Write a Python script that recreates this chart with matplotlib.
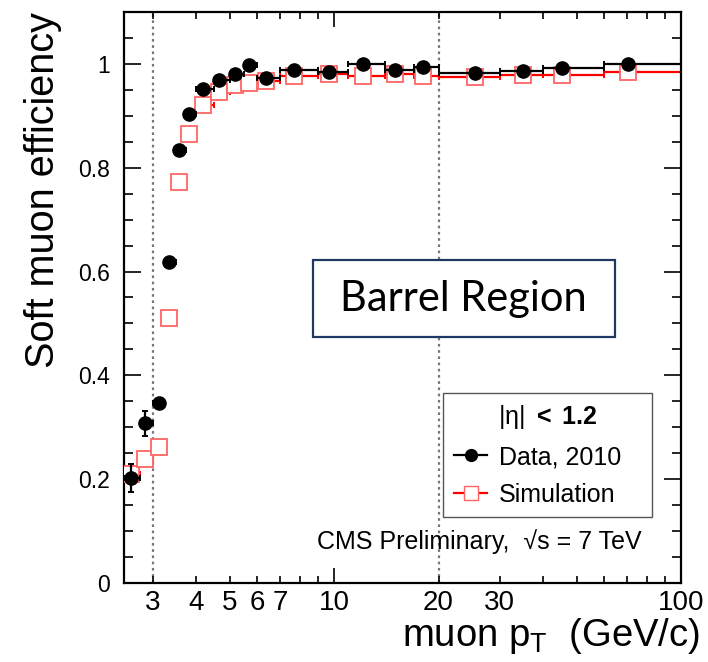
import matplotlib
matplotlib.use("Agg")
import matplotlib.pyplot as plt
from matplotlib.lines import Line2D
from matplotlib.patches import Rectangle
import numpy as np

plt.rcParams['font.family'] = ['Liberation Sans', 'DejaVu Sans']
plt.rcParams['mathtext.fontset'] = 'custom'
plt.rcParams['mathtext.rm'] = 'Liberation Sans'
plt.rcParams['mathtext.it'] = 'Liberation Sans:italic'
plt.rcParams['mathtext.bf'] = 'Liberation Sans:bold'

# ---- data ----
pt = [2.60, 2.85, 3.13, 3.34, 3.57, 3.82, 4.19, 4.66, 5.19, 5.69, 6.37, 7.67,
      9.67, 12.1, 15.0, 18.0, 25.5, 35.1, 45.4, 70.3]
bin_lo = [2.5, 2.75, 3.0, 3.25, 3.5, 3.75, 4.0, 4.5, 5.0, 5.5, 6.0, 7.0,
          9.0, 11.0, 14.0, 17.0, 20.0, 30.0, 40.0, 60.0]
bin_hi = [2.75, 3.0, 3.25, 3.5, 3.75, 4.0, 4.5, 5.0, 5.5, 6.0, 7.0, 9.0,
          11.0, 14.0, 17.0, 20.0, 30.0, 40.0, 60.0, 100.0]
eff_data = [0.202, 0.308, 0.346, 0.619, 0.835, 0.904, 0.952, 0.969, 0.981, 0.998,
            0.973, 0.988, 0.985, 1.000, 0.988, 0.994, 0.982, 0.986, 0.992, 1.000]
err_data = [0.027, 0.024, 0.006, 0.006, 0.005, 0.005, 0.005, 0.004, 0.004, 0.004,
            0.004, 0.003, 0.003, 0.003, 0.003, 0.003, 0.003, 0.003, 0.003, 0.003]
eff_sim = [0.210, 0.238, 0.262, 0.510, 0.773, 0.865, 0.921, 0.946, 0.960, 0.964,
           0.967, 0.977, 0.981, 0.977, 0.981, 0.977, 0.975, 0.979, 0.979, 0.985]

major_xticks = [10, 100]
minor_xticks = [3, 4, 5, 6, 7, 8, 9, 20, 30, 40, 50, 60, 70, 80, 90]
minor_xlabels = ['3', '4', '5', '6', '7', '', '', '20', '30', '', '', '', '', '', '']
yticks = [0, 0.2, 0.4, 0.6, 0.8, 1.0]
ytick_labels = ['0', '0.2', '0.4', '0.6', '0.8', '1']
vlines_at = [3, 20]

pt_a = np.array(pt)
xerr = [pt_a - np.array(bin_lo), np.array(bin_hi) - pt_a]

fig = plt.figure(figsize=(7.08, 6.62), dpi=100)
ax = fig.add_axes([124/708, 1-583/662, 557/708, 571/662])

for v in vlines_at:
    ax.axvline(v, color='#777777', ls=(0, (1.2, 1.6)), lw=1.6, zorder=1)

ax.errorbar(pt, eff_sim, xerr=xerr, fmt='none', ecolor='#ff0000', elinewidth=1.6,
            capsize=2.2, capthick=1.4, zorder=2)
ax.plot(pt, eff_sim, ls='none', marker='s', ms=11.3, mfc='white', mec='#ff6464', mew=1.3, zorder=3)

ax.errorbar(pt, eff_data, xerr=xerr, yerr=err_data, fmt='o', color='black', ms=9.5,
            elinewidth=1.6, capsize=2.5, capthick=1.4, zorder=4)

ax.set_xscale('log')
ax.set_xlim(2.48, 100)
ax.set_ylim(0, 1.1)

ax.set_xticks(major_xticks)
ax.set_xticklabels(['10', '100'])
ax.set_xticks(minor_xticks, minor=True)
ax.set_xticklabels(minor_xlabels, minor=True)
ax.set_yticks(yticks)
ax.set_yticklabels(ytick_labels)
ax.set_yticks(np.arange(0, 1.1001, 0.05), minor=True)

ax.tick_params(axis='x', which='both', direction='in', top=True, labelsize=20, pad=5)
ax.tick_params(axis='x', which='major', length=11, width=1.2)
ax.tick_params(axis='x', which='minor', length=5, width=1.2)
ax.tick_params(axis='y', which='both', direction='in', right=True, labelsize=16.5, pad=10)
ax.tick_params(axis='y', which='major', length=12, width=1.2)
ax.tick_params(axis='y', which='minor', length=6.5, width=1.2)
for s in ax.spines.values():
    s.set_linewidth(1.6)

ax.set_ylabel('Soft muon efficiency', fontsize=28.5, loc='top')
ax.yaxis.set_label_coords(-0.112, 1.0)
ax.set_xlabel(r'muon p$_{\mathrm{T}}$  (GeV/c)', fontsize=27.5, loc='right')
ax.xaxis.set_label_coords(1.034, -0.057)

h_data = Line2D([], [], color='black', marker='o', ms=8.5, lw=1.6)
h_sim = Line2D([], [], color='#ff0000', marker='s', ms=9.5, mfc='white', mec='#ff6464', lw=1.6)
leg = ax.legend([h_data, h_sim], ['Data, 2010', 'Simulation'],
                title=r'|η| $\mathbf{<}$ $\mathbf{1.2}$', title_fontsize=18, fontsize=18,
                loc='upper left', bbox_to_anchor=(0.573, 0.114, 0.375, 0.219), mode='expand',
                frameon=True, fancybox=False, edgecolor='#555555', framealpha=1,
                handlelength=1.35, handletextpad=0.45, labelspacing=0.55,
                borderpad=0.42, borderaxespad=0)
leg.get_frame().set_linewidth(1.0)

ax.text(0.930, 0.072, 'CMS Preliminary,  √s = 7 TeV', transform=ax.transAxes,
        ha='right', va='center', fontsize=18)

bw, bh = 302/557, 77/571
bx, by = 0.610 - bw/2, 0.498 - bh/2
ax.add_patch(Rectangle((bx, by), bw, bh, transform=ax.transAxes, facecolor='white',
                       edgecolor='#1f3864', lw=1.6, zorder=6))
ax.text(0.610, 0.498, 'Barrel Region', transform=ax.transAxes, ha='center', va='center',
        fontsize=30, family=['Lato', 'DejaVu Sans'], zorder=7)

fig.savefig('out.png', dpi=100)
